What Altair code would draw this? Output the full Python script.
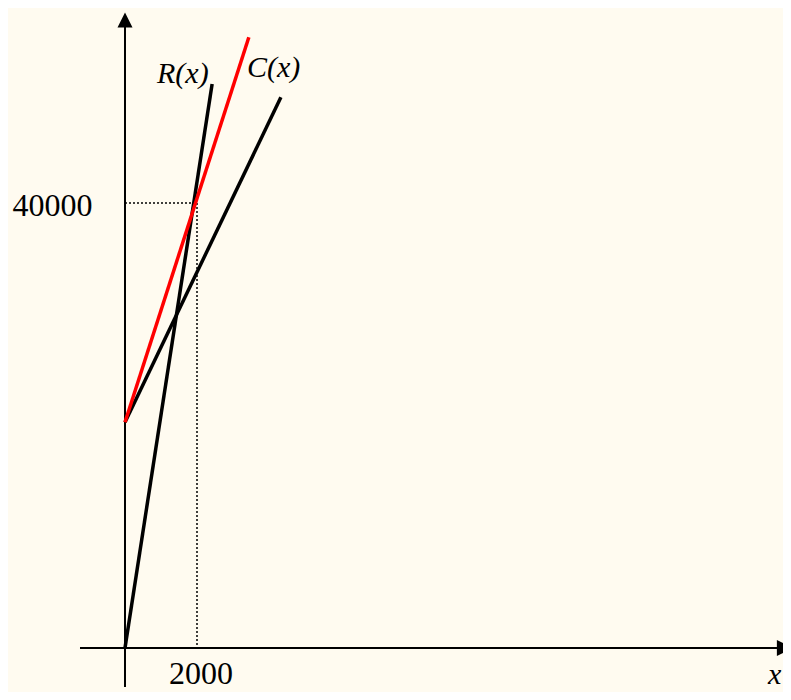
import altair as alt
import pandas as pd

# ---- data ----
r_x = [0, 2420]
r_y = [0, 50700]
c_red_x = [0, 3440]
c_red_y = [20300, 54900]
c_blk_x = [0, 4330]
c_blk_y = [20300, 49500]
guide_x = [0, 2000, 2000]
guide_y = [40000, 40000, 0]
xaxis_x = [-1250, 18300]
yaxis_y = [-3500, 56000]

labels_text = ["40000", "2000", "R(x)", "C(x)", "x"]
labels_x = [-900, 2110, 890, 3390, 17860]
labels_y = [38830, -3240, 50800, 51330, -3240]
labels_align = ["right", "center", "left", "left", "left"]
labels_size = [32, 32, 30, 30, 30]

X_DOMAIN = [-3250, 18278]
Y_DOMAIN = [-3955, 57528]

BG = "#FFFBF0"

xs = alt.Scale(domain=X_DOMAIN, nice=False, zero=False)
ys = alt.Scale(domain=Y_DOMAIN, nice=False, zero=False)


def line_layer(xv, yv, color, width, dash=None):
    df = pd.DataFrame({"x": xv, "y": yv, "o": list(range(len(xv)))})
    kw = dict(color=color, strokeWidth=width, clip=False)
    if dash:
        kw["strokeDash"] = dash
    return alt.Chart(df).mark_line(**kw).encode(
        x=alt.X("x:Q", scale=xs, axis=None),
        y=alt.Y("y:Q", scale=ys, axis=None),
        order="o:Q",
    )


xaxis = line_layer(xaxis_x, [0, 0], "black", 2)
yaxis = line_layer([0, 0], yaxis_y, "black", 2)
guide = line_layer(guide_x, guide_y, "black", 1.5, dash=[2, 2])
r_line = line_layer(r_x, r_y, "black", 3.5)
c_black = line_layer(c_blk_x, c_blk_y, "black", 3.5)
c_red = line_layer(c_red_x, c_red_y, "#FF0000", 3.5)

arrow_up = alt.Chart(pd.DataFrame({"x": [0], "y": [56450]})).mark_point(
    shape="M0,-1L1,1L-1,1Z", filled=True, color="black", size=225, opacity=1, clip=False
).encode(x=alt.X("x:Q", scale=xs, axis=None), y=alt.Y("y:Q", scale=ys, axis=None))

arrow_right = alt.Chart(pd.DataFrame({"x": [18330], "y": [0]})).mark_point(
    shape="M1,0L-1,-1L-1,1Z", filled=True, color="black", size=256, opacity=1, clip=False
).encode(x=alt.X("x:Q", scale=xs, axis=None), y=alt.Y("y:Q", scale=ys, axis=None))

lab_df = pd.DataFrame({"t": labels_text, "x": labels_x, "y": labels_y})
text_layers = []
for i, t in enumerate(labels_text):
    italic = t in ("R(x)", "C(x)", "x")
    d = lab_df.iloc[[i]]
    text_layers.append(
        alt.Chart(d).mark_text(
            font="Liberation Serif",
            fontSize=labels_size[i],
            fontStyle="italic" if italic else "normal",
            align=labels_align[i],
            baseline="alphabetic",
            color="black",
            clip=False,
        ).encode(
            x=alt.X("x:Q", scale=xs, axis=None),
            y=alt.Y("y:Q", scale=ys, axis=None),
            text="t:N",
        )
    )

chart = alt.layer(
    guide, xaxis, yaxis, r_line, c_black, c_red, arrow_up, arrow_right, *text_layers
).properties(
    width=775,
    height=684,
    background=BG,
    padding=0,
    autosize=alt.AutoSizeParams(type="none"),
).configure_view(stroke=None)

chart.save("out.html", embed_options={"renderer": "svg", "actions": False})
